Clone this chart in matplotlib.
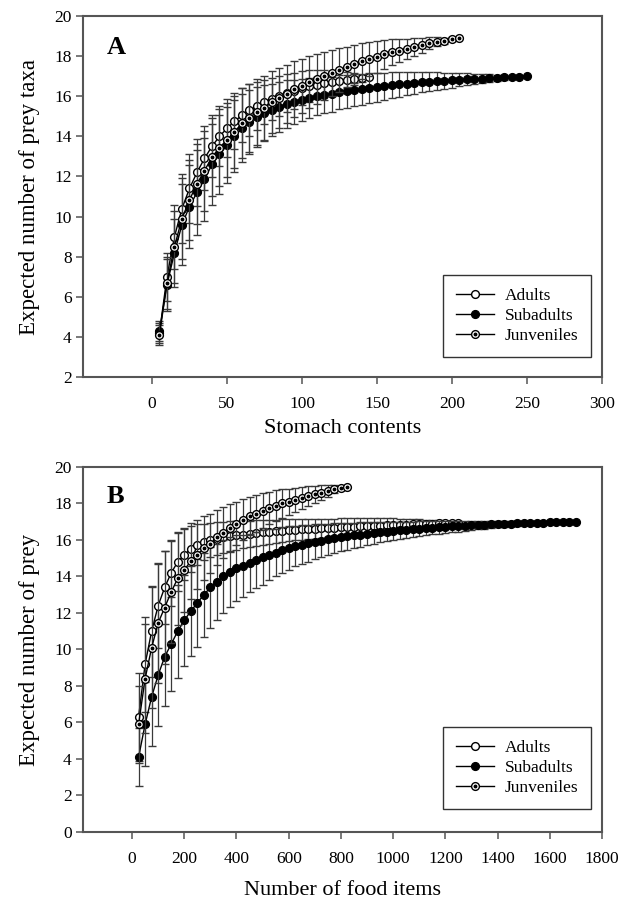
import matplotlib
matplotlib.use("Agg")
import matplotlib.pyplot as plt
from matplotlib.lines import Line2D

plt.rcParams['font.family'] = ['Liberation Serif', 'DejaVu Serif']

# ---- Panel A: per stomach contents (sampling step 5) ----
a_adult_x = list(range(5, 150, 5))
a_adult_y = [4.2, 7.0, 9.0, 10.4, 11.4, 12.2, 12.9, 13.5, 14.0, 14.4,
             14.75, 15.05, 15.3, 15.5, 15.7, 15.87, 16.02, 16.16, 16.28, 16.4,
             16.5, 16.58, 16.65, 16.7, 16.75, 16.8, 16.85, 16.9, 16.95]
a_adult_e = [0.5, 1.2, 1.6, 1.7, 1.7, 1.65, 1.6, 1.55, 1.5, 1.45,
             1.4, 1.35, 1.3, 1.2, 1.1, 1.05, 1.0, 0.95, 0.9, 0.85,
             0.8, 0.72, 0.65, 0.58, 0.5, 0.4, 0.3, 0.18, 0.0]

a_sub_x = list(range(5, 255, 5))
a_sub_y = [4.3, 6.6, 8.2, 9.6, 10.5, 11.2, 11.85, 12.6, 13.1, 13.55,
           14.0, 14.4, 14.7, 14.95, 15.15, 15.3, 15.45, 15.6, 15.7, 15.8,
           15.9, 16.0, 16.05, 16.1, 16.2, 16.25, 16.3, 16.35, 16.4, 16.45,
           16.5, 16.55, 16.6, 16.62, 16.65, 16.7, 16.72, 16.75, 16.78, 16.8,
           16.82, 16.84, 16.86, 16.88, 16.9, 16.92, 16.94, 16.96, 16.98, 17.0]
a_sub_e = [0.5, 1.3, 1.7, 2.0, 2.05, 2.1, 2.05, 2.0, 1.95, 1.9,
           1.8, 1.7, 1.6, 1.5, 1.4, 1.3, 1.25, 1.2, 1.1, 1.05,
           1.0, 0.95, 0.9, 0.88, 0.85, 0.82, 0.8, 0.78, 0.75, 0.72,
           0.68, 0.65, 0.62, 0.58, 0.55, 0.5, 0.47, 0.44, 0.4, 0.37,
           0.33, 0.3, 0.26, 0.22, 0.19, 0.15, 0.11, 0.07, 0.04, 0.0]

a_juv_x = list(range(5, 210, 5))
a_juv_y = [4.1, 6.7, 8.5, 9.9, 10.83, 11.63, 12.29, 12.96, 13.44, 13.82,
           14.23, 14.65, 14.93, 15.23, 15.43, 15.7, 15.9, 16.11, 16.35, 16.51,
           16.73, 16.84, 17.0, 17.14, 17.31, 17.47, 17.6, 17.75, 17.84, 17.97,
           18.09, 18.19, 18.27, 18.37, 18.47, 18.55, 18.64, 18.72, 18.77, 18.85, 18.89]
a_juv_e = [0.5, 1.3, 1.8, 2.0, 2.0, 2.0, 2.0, 1.95, 1.9, 1.85,
           1.8, 1.75, 1.7, 1.65, 1.6, 1.55, 1.5, 1.45, 1.4, 1.35,
           1.3, 1.25, 1.2, 1.15, 1.1, 1.0, 0.95, 0.9, 0.85, 0.8,
           0.72, 0.65, 0.58, 0.5, 0.44, 0.37, 0.3, 0.22, 0.15, 0.08, 0.0]

# ---- Panel B: per number of food items (sampling step 25) ----
b_adult_x = list(range(25, 1275, 25))
b_adult_y = [6.3, 9.2, 11.0, 12.4, 13.4, 14.2, 14.8, 15.2, 15.5, 15.75,
             15.9, 16.0, 16.08, 16.15, 16.2, 16.25, 16.3, 16.34, 16.38, 16.42,
             16.45, 16.48, 16.51, 16.54, 16.56, 16.58, 16.6, 16.62, 16.64, 16.66,
             16.68, 16.7, 16.72, 16.73, 16.75, 16.76, 16.78, 16.79, 16.8, 16.82,
             16.83, 16.84, 16.86, 16.87, 16.88, 16.9, 16.91, 16.92, 16.94, 16.95]
b_adult_e = [2.4, 2.6, 2.5, 2.3, 2.0, 1.8, 1.6, 1.4, 1.25, 1.1,
             1.0, 0.95, 0.9, 0.86, 0.82, 0.78, 0.75, 0.72, 0.7, 0.68,
             0.66, 0.64, 0.62, 0.6, 0.58, 0.56, 0.55, 0.54, 0.52, 0.5,
             0.49, 0.48, 0.47, 0.46, 0.45, 0.44, 0.42, 0.4, 0.38, 0.36,
             0.34, 0.32, 0.3, 0.27, 0.24, 0.2, 0.16, 0.11, 0.06, 0.0]

b_sub_x = list(range(25, 1725, 25))
b_sub_y = [4.1, 5.9, 7.4, 8.6, 9.6, 10.3, 11.0, 11.6, 12.1, 12.55,
           13.0, 13.4, 13.7, 14.0, 14.25, 14.45, 14.6, 14.75, 14.9, 15.05,
           15.2, 15.3, 15.45, 15.55, 15.65, 15.75, 15.82, 15.9, 15.97, 16.03,
           16.1, 16.15, 16.2, 16.25, 16.3, 16.34, 16.38, 16.42, 16.46, 16.5,
           16.53, 16.56, 16.59, 16.62, 16.65, 16.67, 16.7, 16.72, 16.74, 16.76,
           16.78, 16.8, 16.82, 16.84, 16.85, 16.87, 16.88, 16.9, 16.91, 16.92,
           16.93, 16.94, 16.95, 16.96, 16.97, 16.98, 16.99, 17.0]
b_sub_e = [1.6, 2.3, 2.7, 2.8, 2.7, 2.6, 2.55, 2.5, 2.45, 2.4,
           2.3, 2.2, 2.1, 2.0, 1.9, 1.8, 1.7, 1.6, 1.55, 1.5,
           1.4, 1.3, 1.25, 1.2, 1.1, 1.05, 1.0, 0.95, 0.9, 0.86,
           0.82, 0.78, 0.74, 0.7, 0.66, 0.62, 0.58, 0.55, 0.52, 0.5,
           0.47, 0.44, 0.42, 0.4, 0.38, 0.36, 0.35, 0.34, 0.32, 0.3,
           0.28, 0.26, 0.24, 0.22, 0.2, 0.18, 0.17, 0.15, 0.13, 0.12,
           0.1, 0.09, 0.08, 0.06, 0.05, 0.03, 0.02, 0.0]

b_juv_x = list(range(25, 850, 25))
b_juv_y = [5.9, 8.4, 10.1, 11.45, 12.3, 13.15, 13.9, 14.35, 14.85, 15.2,
           15.55, 15.8, 16.15, 16.4, 16.65, 16.9, 17.1, 17.3, 17.45, 17.6,
           17.75, 17.88, 18.0, 18.1, 18.2, 18.3, 18.4, 18.5, 18.6, 18.7,
           18.78, 18.86, 18.93]
b_juv_e = [2.1, 3.0, 3.3, 3.3, 3.1, 2.8, 2.55, 2.3, 2.1, 1.9,
           1.75, 1.6, 1.5, 1.4, 1.3, 1.2, 1.12, 1.05, 1.0, 0.95,
           0.9, 0.85, 0.78, 0.72, 0.66, 0.6, 0.54, 0.47, 0.4, 0.32,
           0.22, 0.12, 0.0]

labels = ['Adults', 'Subadults', 'Junveniles']

ERR_COLOR = '#3a3a3a'
SPINE_COLOR = '#555555'
MS = 5.6


def draw_panel(ax, adult, sub, juv, letter, letter_y, xlim, xticks, ylim, yticks,
               xlabel, ylabel, leg_anchor):
    # adults: open circles
    ax.errorbar(adult[0], adult[1], yerr=adult[2], fmt='-o', color='black', lw=1.0,
                mfc='white', mec='black', mew=1.0, ms=MS,
                ecolor=ERR_COLOR, elinewidth=0.9, capsize=3.2, capthick=0.9, zorder=2)
    # subadults: filled circles
    ax.errorbar(sub[0], sub[1], yerr=sub[2], fmt='-o', color='black', lw=1.0,
                mfc='black', mec='black', mew=1.0, ms=MS,
                ecolor=ERR_COLOR, elinewidth=0.9, capsize=3.2, capthick=0.9, zorder=3)
    # juveniles: dotted circles
    ax.errorbar(juv[0], juv[1], yerr=juv[2], fmt='-o', color='black', lw=1.0,
                mfc='white', mec='black', mew=1.0, ms=MS,
                ecolor=ERR_COLOR, elinewidth=0.9, capsize=3.2, capthick=0.9, zorder=4)
    ax.plot(juv[0], juv[1], 'o', ms=1.8, color='black', zorder=5)

    ax.set_xlim(*xlim)
    ax.set_ylim(*ylim)
    ax.set_xticks(xticks)
    ax.set_yticks(yticks)
    ax.tick_params(direction='out', length=5, width=1.1, color=SPINE_COLOR,
                   labelsize=12.5, pad=3)
    ax.tick_params(axis='x', pad=9)
    for s in ax.spines.values():
        s.set_color(SPINE_COLOR)
        s.set_linewidth(1.5)
    ax.set_xlabel(xlabel, fontsize=16, labelpad=5)
    ax.set_ylabel(ylabel, fontsize=16.5, labelpad=10)
    ax.text(0.045, letter_y, letter, transform=ax.transAxes, fontsize=19,
            fontweight='bold', va='center', ha='left')

    h_ad = Line2D([], [], color='black', lw=1.0, marker='o', mfc='white', mec='black', ms=MS)
    h_sub = Line2D([], [], color='black', lw=1.0, marker='o', mfc='black', mec='black', ms=MS)
    h_juv = Line2D([], [], color='black', lw=1.0, marker='o', mfc='white', mec='black', ms=MS)
    h_dot = Line2D([], [], ls='none', marker='o', color='black', ms=1.8)
    leg = ax.legend([h_ad, h_sub, (h_juv, h_dot)], labels, loc='lower right',
                    bbox_to_anchor=leg_anchor, borderaxespad=0, fontsize=12.5,
                    frameon=True, fancybox=False, edgecolor='black', handlelength=2.2,
                    borderpad=0.75, labelspacing=0.22, handletextpad=0.6)
    leg.get_frame().set_linewidth(1.0)


fig = plt.figure(figsize=(6.31, 9.01), dpi=100)
axA = fig.add_axes([0.1315, 0.5816, 0.8225, 0.4006])
axB = fig.add_axes([0.1315, 0.0766, 0.8225, 0.4051])

draw_panel(axA, (a_adult_x, a_adult_y, a_adult_e), (a_sub_x, a_sub_y, a_sub_e),
           (a_juv_x, a_juv_y, a_juv_e), 'A', 0.913, (-46, 300), range(0, 301, 50),
           (2, 20), range(2, 21, 2), 'Stomach contents', 'Expected number of prey taxa',
           (0.979, 0.055))
draw_panel(axB, (b_adult_x, b_adult_y, b_adult_e), (b_sub_x, b_sub_y, b_sub_e),
           (b_juv_x, b_juv_y, b_juv_e), 'B', 0.918, (-188, 1800), range(0, 1801, 200),
           (0, 20), range(0, 21, 2), 'Number of food items', 'Expected number of prey',
           (0.979, 0.063))
axB.xaxis.labelpad = 10

fig.savefig('out.png', dpi=100)
